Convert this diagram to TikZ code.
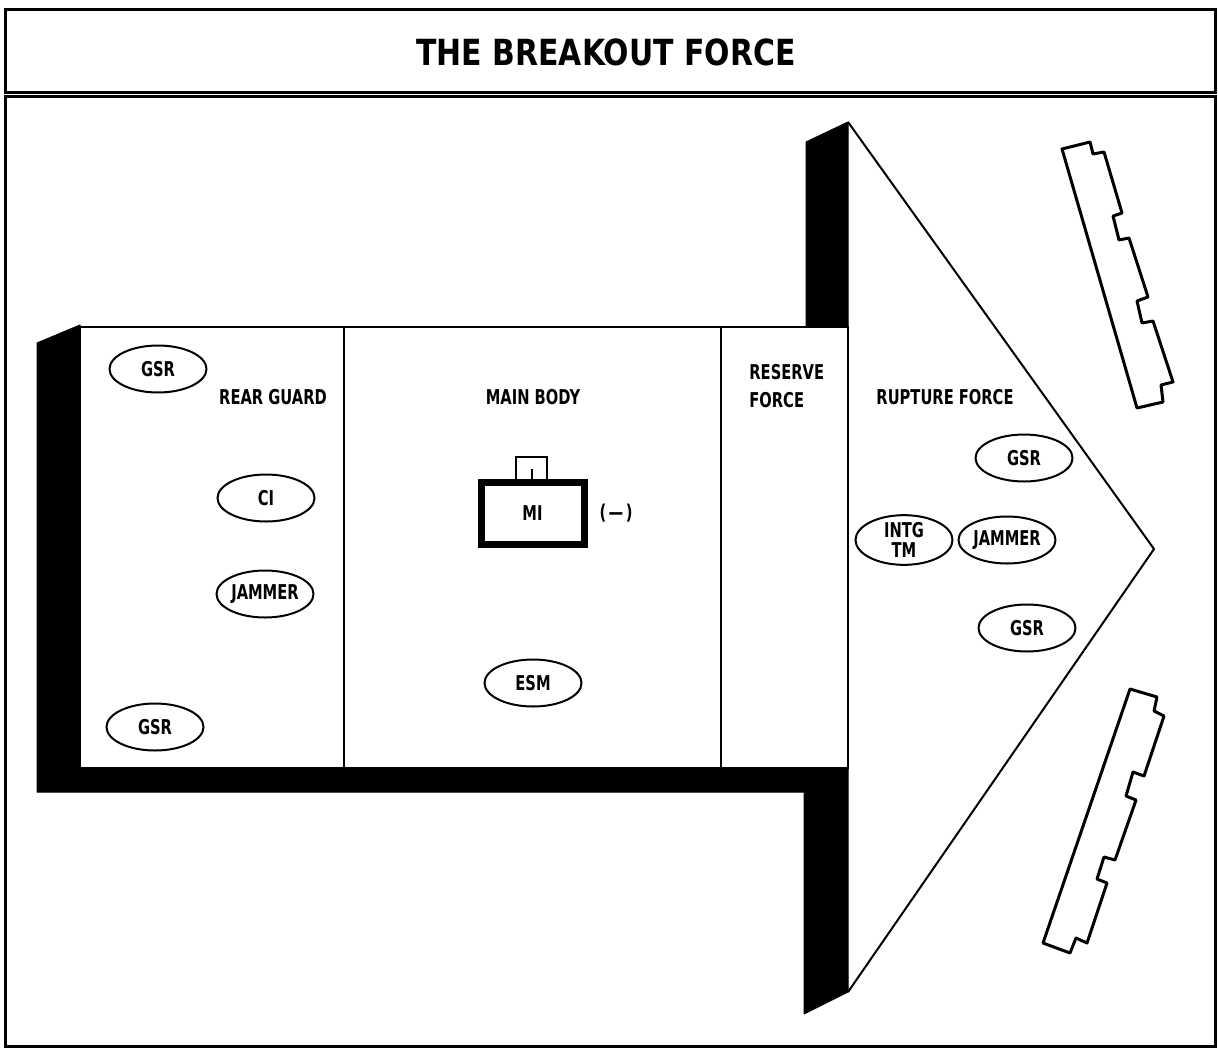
\documentclass[tikz,border=0pt]{standalone}
\usepackage{fontspec}
\setmainfont{DejaVu Sans}
\usetikzlibrary{shapes.geometric}
\newcommand{\cx}[1]{\scalebox{0.72}[1]{#1}}
\newcommand{\cxt}[1]{\scalebox{0.83}[1]{#1}}
\tikzset{
  frameline/.style={line width=1.5pt},
  bodyline/.style={line width=1pt},
  shadow/.style={fill=black, draw=black, line width=0.5pt, line join=round},
  oval/.style={draw, ellipse, line width=1pt, minimum width=48.5pt, minimum height=23.5pt, inner sep=0pt,
    font=\fontsize{10.2}{10}\selectfont\bfseries, align=center},
  lbl/.style={font=\fontsize{10.2}{14}\selectfont\bfseries, inner sep=0pt},
  barrier/.style={draw, line width=1.5pt, line join=round},
}
\begin{document}
\begin{tikzpicture}[x=0.5pt,y=-0.5pt]
\useasboundingbox (0,0) rectangle (1218,1048);
% frame
\draw[frameline] (5,10) rectangle (1215,93);
\draw[frameline] (5,97) rectangle (1215,1046);
\node[font=\fontsize{18}{20}\selectfont\bfseries, inner sep=0pt] (title) at (606,52) {\cxt{THE BREAKOUT FORCE}};
% shadows
\fill[shadow] (37,343) -- (80,325) -- (80,768) -- (848,768) -- (848,992) -- (804,1014) -- (804,792) -- (37,792) -- cycle;
\fill[shadow] (806,142) -- (848,122) -- (848,327) -- (806,327) -- cycle;
% body
\draw[bodyline, fill=white] (80,327) rectangle (848,768);
\draw[bodyline] (344,327) -- (344,768);
\draw[bodyline] (721,327) -- (721,768);
% arrowhead
\draw[bodyline, line join=miter] (848,122) -- (1154,549) -- (848,992);
% labels
\node[lbl] (rg) at (273,397) {\cx{REAR GUARD}};
\node[lbl] (mb) at (533,397) {\cx{MAIN BODY}};
\node[lbl, anchor=west, align=left] (rf) at (749,386) {\cx{RESERVE}\\\cx{FORCE}};
\node[lbl] (rupt) at (945,397) {\cx{RUPTURE FORCE}};
% ovals
\node[oval] (gsr1) at (158,369) {\cx{GSR}};
\node[oval] (ci) at (266,498) {\cx{CI}};
\node[oval] (jam1) at (265,594) {\cx{JAMMER}};
\node[oval] (gsr2) at (155,727) {\cx{GSR}};
\node[oval] (esm) at (533,683) {\cx{ESM}};
\node[oval] (gsr3) at (1024,458) {\cx{GSR}};
\node[oval] (intg) at (904,540) {\cx{INTG}\\\cx{TM}};
\node[oval] (jam2) at (1007,540) {\cx{JAMMER}};
\node[oval] (gsr4) at (1027,628) {\cx{GSR}};
% MI unit symbol
\node[draw, line width=3.5pt, minimum width=51.5pt, minimum height=31pt, inner sep=0pt,
  font=\fontsize{10.2}{9}\selectfont\bfseries] (mi) at (532.5,513) {\cx{MI}};
\draw[line width=1.2pt] (516,479) -- (516,457) -- (547,457) -- (547,479);
\draw[line width=1.4pt] (532,469) -- (532,479);
\node[lbl] (minus) at (616,513) {\cx{(\,—\,)}};
% barriers
\draw[barrier] (1062,149) -- (1090,142) -- (1093,154) -- (1104,152) -- (1122,213) -- (1113,216)
  -- (1119,240) -- (1129,238) -- (1148,297) -- (1137,301) -- (1142,323) -- (1153,321)
  -- (1173,382) -- (1161,385) -- (1163,402) -- (1137,408) -- cycle;
\draw[barrier] (1130,689) -- (1157,697) -- (1154,711) -- (1164,716) -- (1144,776) -- (1133,772)
  -- (1126,796) -- (1136,800) -- (1115,860) -- (1104,857) -- (1097,879) -- (1107,883)
  -- (1087,943) -- (1076,938) -- (1070,953) -- (1043,943) -- cycle;
\end{tikzpicture}
\end{document}
